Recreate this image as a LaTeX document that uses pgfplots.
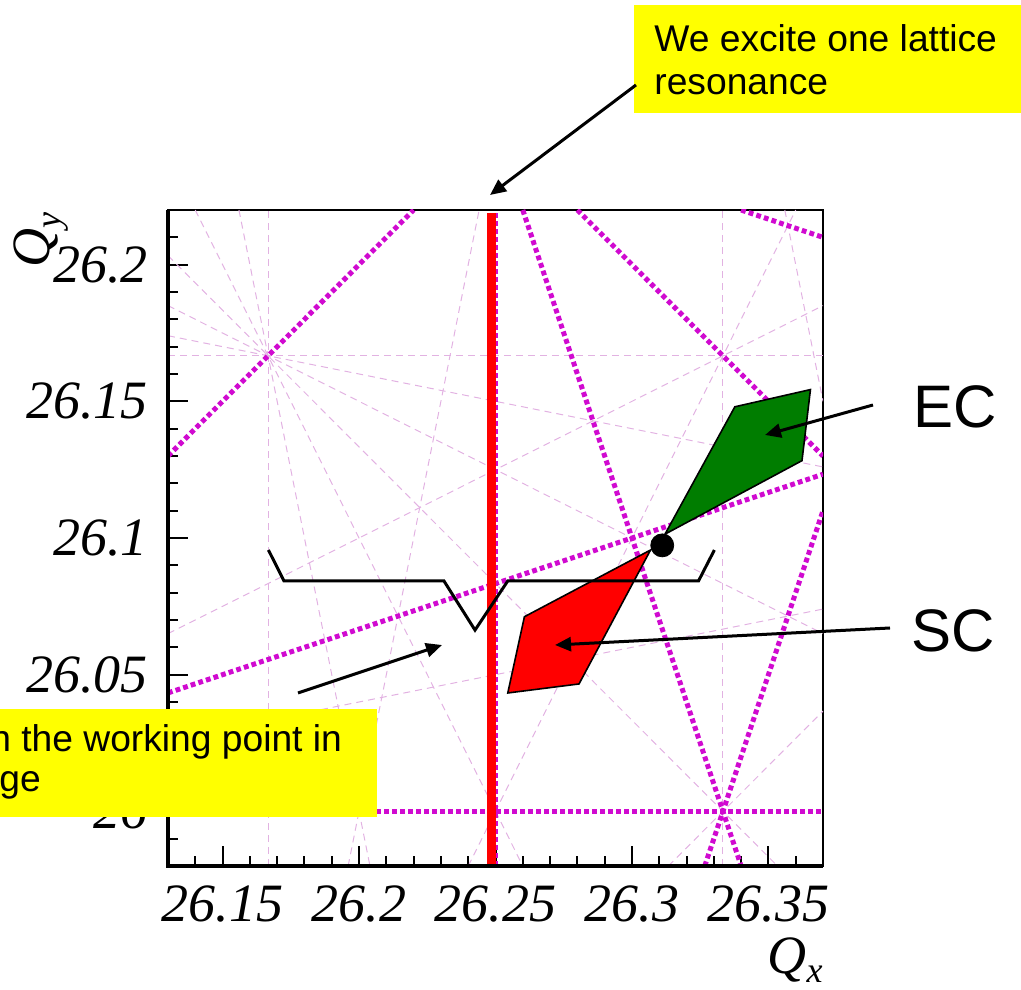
\documentclass[border=0pt]{standalone}
\usepackage{fontspec}
\setmainfont{Liberation Serif}
\newfontfamily\arial{Liberation Sans}
\usepackage{pgfplots}
\pgfplotsset{compat=1.18}
\usetikzlibrary{arrows.meta}

\definecolor{resfour}{RGB}{208,10,208}
\definecolor{resthin}{RGB}{226,178,226}
\definecolor{ecgreen}{RGB}{0,125,0}
\definecolor{boxyellow}{RGB}{255,255,0}

% 4th-order resonance lines: thick dotted; 3rd and 6th order: thin dashed
\tikzset{fourth/.style={resfour, line width=2.5pt, dash pattern=on 2.4pt off 1.6pt},
         other/.style={resthin, line width=0.5pt, dash pattern=on 3.5pt off 2.5pt}}

\begin{document}
\begin{tikzpicture}
\begin{axis}[
  at={(0pt,0pt)}, anchor=south west,
  scale only axis, width=327.5pt, height=328pt,
  xmin=26.13, xmax=26.37, ymin=25.98, ymax=26.22,
  xtick={26.15,26.2,26.25,26.3,26.35},
  xticklabels={26.15,26.2,26.25,26.3,26.35},
  ytick={26,26.05,26.1,26.15,26.2},
  yticklabels={26,26.05,26.1,26.15,26.2},
  minor xtick={26.14,26.16,26.17,26.18,26.19,26.21,26.22,26.23,26.24,26.26,26.27,26.28,26.29,26.31,26.32,26.33,26.34,26.36},
  minor ytick={25.99,26.01,26.02,26.03,26.04,26.06,26.07,26.08,26.09,26.11,26.12,26.13,26.14,26.16,26.17,26.18,26.19,26.21},
  xtick pos=left, ytick pos=left,
  tick align=inside,
  major tick length=10pt, minor tick length=5pt,
  tick style={black, line width=1pt},
  axis line style={line width=1.3pt},
  tick label style={font=\fontsize{27}{27}\selectfont\itshape, inner sep=0pt},
  xticklabel style={yshift=-9.5pt},
  yticklabel style={xshift=-10pt},
  clip mode=individual,
]
% 3rd and 6th order resonances
\addplot[other] coordinates {(26.33333,25.98) (26.33333,26.22)};
\addplot[other] coordinates {(26.13,26.065) (26.37,26.185)};
\addplot[other] coordinates {(26.16667,25.98) (26.16667,26.22)};
\addplot[other] coordinates {(26.13,26.16667) (26.37,26.16667)};
\addplot[other] coordinates {(26.156,26.22) (26.204,25.98)};
\addplot[other] coordinates {(26.356,26.22) (26.37,26.15)};
\addplot[other] coordinates {(26.196,25.98) (26.244,26.22)};
\addplot[other] coordinates {(26.13,26.174) (26.37,26.126)};
\addplot[other] coordinates {(26.13,26.026) (26.37,26.074)};
\addplot[other] coordinates {(26.14,26.22) (26.26,25.98)};
\addplot[other] coordinates {(26.24,25.98) (26.36,26.22)};
\addplot[other] coordinates {(26.13,26.185) (26.37,26.065)};
\addplot[other] coordinates {(26.13,26.20333) (26.35333,25.98)};
\addplot[other] coordinates {(26.31333,25.98) (26.37,26.03667)};
% 4th order resonances
\addplot[fourth] coordinates {(26.13,26) (26.37,26)};
\addplot[fourth] coordinates {(26.13,26.13) (26.22,26.22)};
\addplot[fourth] coordinates {(26.13,26.04333) (26.37,26.12333)};
\addplot[fourth] coordinates {(26.26,26.22) (26.34,25.98)};
\addplot[fourth] coordinates {(26.28,26.22) (26.37,26.13)};
\addplot[fourth] coordinates {(26.32667,25.98) (26.37,26.11)};
\addplot[fourth] coordinates {(26.34,26.22) (26.37,26.21)};
\addplot[fourth] coordinates {(26.25,25.98) (26.25,26.22)};
% excited lattice resonance
\addplot[red, line width=4.3pt] coordinates {(26.2485,25.97) (26.2485,26.219)};
% tune footprints
\addplot[fill=ecgreen, draw=black, line width=0.8pt] coordinates {(26.3121,26.1014) (26.3377,26.1480) (26.3654,26.1543) (26.3623,26.1283)} -- cycle;
\addplot[fill=red, draw=black, line width=0.8pt] coordinates {(26.3068,26.0956) (26.2606,26.0712) (26.2545,26.0433) (26.2806,26.0466)} -- cycle;
% scan range of the working point
\addplot[black, line width=1.5pt] coordinates {(26.1668,26.0956) (26.1725,26.0843) (26.2311,26.0843) (26.2425,26.0663) (26.2545,26.0843) (26.3244,26.0843) (26.3302,26.0956)};
% working point
\addplot[only marks, mark=*, mark size=5.75pt, black] coordinates {(26.3111,26.0973)};
\end{axis}

\begin{scope}[x=0.5pt, y=-0.5pt, shift={(-168,-866)}]
  % heavier left and bottom axis lines
  \draw[line width=2.4pt] (168,210) -- (168,866) -- (823,866);
  % axis titles
  \node[anchor=base east, inner sep=0pt, font=\fontsize{27}{27}\selectfont\itshape]
    at (823,973) {Q\raisebox{-4.5pt}{\fontsize{18}{18}\selectfont x}};
  \node[rotate=90, anchor=base east, inner sep=0pt, font=\fontsize{27}{27}\selectfont\itshape]
    at (50,212) {Q\raisebox{-5pt}{\fontsize{18}{18}\selectfont y}};
  % callouts
  \fill[boxyellow] (634,5) rectangle (1021,113);
  \node[anchor=base west, inner sep=0pt, font=\arial\fontsize{18.6}{21.5}\selectfont] at (654,52) {We excite one lattice};
  \node[anchor=base west, inner sep=0pt, font=\arial\fontsize{18.6}{21.5}\selectfont] at (654,95) {resonance};
  \fill[boxyellow] (-10,709) rectangle (377,817);
  \node[anchor=base west, inner sep=0pt, font=\arial\fontsize{18.6}{21.5}\selectfont] at (-10,752) {n the working point in};
  \node[anchor=base west, inner sep=0pt, font=\arial\fontsize{18.6}{21.5}\selectfont] at (-1,792) {ge};
  \node[anchor=base west, inner sep=0pt, font=\arial\fontsize{30}{30}\selectfont] at (913,428) {EC};
  \node[anchor=base west, inner sep=0pt, font=\arial\fontsize{30}{30}\selectfont] at (911,652) {SC};
  \begin{scope}[line width=1.5pt, -{Triangle[length=8pt,width=7pt]}]
    \draw (636,85) -- (490,195);
    \draw (298,693) -- (442,645);
    \draw (873,405) -- (765,435);
    \draw (890,628) -- (555,645);
  \end{scope}
  \pgfresetboundingbox
  \path[use as bounding box] (0,0) rectangle (1021,989);
\end{scope}
\end{tikzpicture}
\end{document}
